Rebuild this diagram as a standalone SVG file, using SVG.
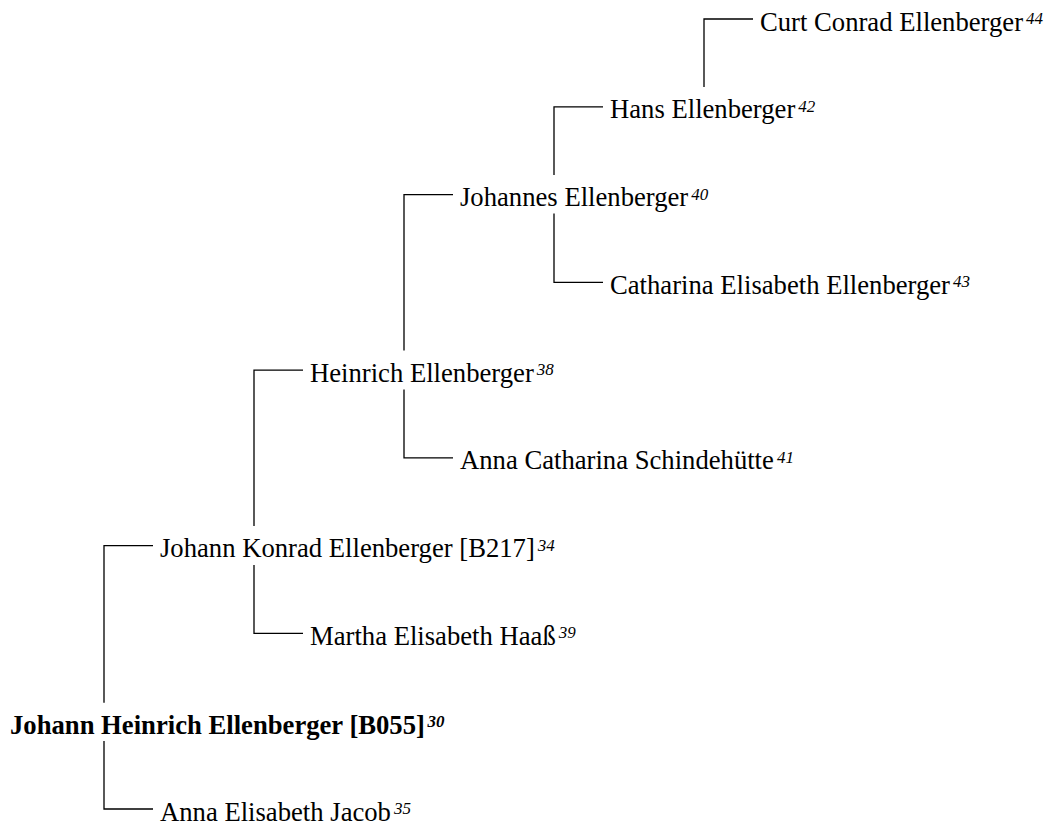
<svg xmlns="http://www.w3.org/2000/svg" width="1050" height="829" viewBox="0 0 1050 829">
<style>
.bg{fill:#ffffff}
.c{fill:none;stroke:#000;stroke-width:1.3}
.n{font-family:"Liberation Serif","Times New Roman",serif;font-size:26.67px;fill:#000}
.b{font-weight:bold}
.s{font-size:17px;font-style:italic}
</style>
<rect class="bg" x="0" y="0" width="1050" height="829"/>
<g id="connectors">
<path class="c" d="M104,702.7 V545.7 H153"/>
<path class="c" d="M104,741 V809 H153"/>
<path class="c" d="M254,526 V370.1 H303"/>
<path class="c" d="M254,565 V633.4 H303"/>
<path class="c" d="M404,350.4 V194.6 H453"/>
<path class="c" d="M404,389.5 V457.9 H453"/>
<path class="c" d="M554,175 V106.8 H603"/>
<path class="c" d="M554,213.6 V282.3 H603"/>
<path class="c" d="M704,87 V19 H753"/>
</g>
<g id="n44"><text class="n" x="760" y="30.5">Curt Conrad Ellenberger<tspan class="s" dx="3" dy="-6.5">44</tspan></text></g>
<g id="n42"><text class="n" x="610" y="118.3">Hans Ellenberger<tspan class="s" dx="3" dy="-6.5">42</tspan></text></g>
<g id="n40"><text class="n" x="460" y="206.1">Johannes Ellenberger<tspan class="s" dx="3" dy="-6.5">40</tspan></text></g>
<g id="n43"><text class="n" x="610" y="293.8">Catharina Elisabeth Ellenberger<tspan class="s" dx="3" dy="-6.5">43</tspan></text></g>
<g id="n38"><text class="n" x="310" y="381.6">Heinrich Ellenberger<tspan class="s" dx="3" dy="-6.5">38</tspan></text></g>
<g id="n41"><text class="n" x="460" y="469.4">Anna Catharina Schindehütte<tspan class="s" dx="3" dy="-6.5">41</tspan></text></g>
<g id="n34"><text class="n" x="160" y="557.2">Johann Konrad Ellenberger [B217]<tspan class="s" dx="3" dy="-6.5">34</tspan></text></g>
<g id="n39"><text class="n" x="310" y="644.9">Martha Elisabeth Haaß<tspan class="s" dx="3" dy="-6.5">39</tspan></text></g>
<g id="n30"><text class="n b" x="10" y="733.5">Johann Heinrich Ellenberger [B055]<tspan class="s" dx="2.5" dy="-6.5">30</tspan></text></g>
<g id="n35"><text class="n" x="160" y="820.5">Anna Elisabeth Jacob<tspan class="s" dx="3" dy="-6.5">35</tspan></text></g>
</svg>
